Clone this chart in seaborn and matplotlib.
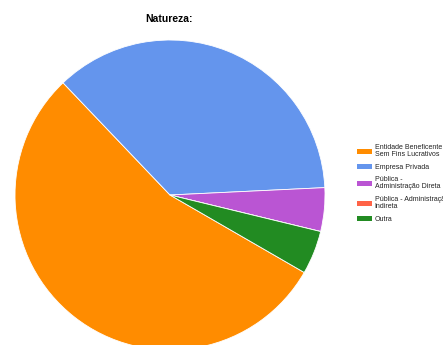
import matplotlib
matplotlib.use("Agg")
import matplotlib.pyplot as plt
from matplotlib.patches import Patch
import seaborn as sns

categories = [
    "Entidade Beneficente\nSem Fins Lucrativos",
    "Empresa Privada",
    "Pública -\nAdministração Direta",
    "Pública - Administração\nIndireta",
    "Outra",
]
counts = [12, 8, 1, 0, 1]
colors = ["#FF8C00", "#6495ED", "#BA55D3", "#FF6347", "#228B22"]
title = "Natureza:"

sns.set_theme(style="white")
plt.rcParams["font.family"] = ["Liberation Sans", "DejaVu Sans"]

fig = plt.figure(figsize=(4.43, 3.45), dpi=100)
fig.patch.set_facecolor("white")

# pie placed so its disc runs past the lower edge of the figure
ax = fig.add_axes([15 / 443, -5 / 345, 310 / 443, 310 / 345])
ax.pie(
    counts,
    colors=colors,
    startangle=-30,
    counterclock=False,
    radius=1.0,
    wedgeprops=dict(edgecolor="white", linewidth=0.6),
)
ax.set_xlim(-1, 1)
ax.set_ylim(-1, 1)
ax.set_aspect("equal")
ax.axis("off")

fig.text(169 / 443, 1 - 19 / 345, title, ha="center", va="center",
         fontsize=7.5, fontweight="bold", color="black")

handles = [Patch(facecolor=c, edgecolor="none") for c in colors]
leg = fig.legend(
    handles, categories,
    loc="upper left",
    bbox_to_anchor=(357 / 443, 1 - 144 / 345),
    frameon=False,
    fontsize=5.0,
    handlelength=2.2,
    handleheight=0.75,
    handletextpad=0.35,
    labelspacing=0.82,
    borderaxespad=0,
    borderpad=0,
)
for t in leg.get_texts():
    t.set_color("#222222")
    t.set_linespacing(1.0)

fig.savefig("out.png", dpi=100, facecolor="white")
